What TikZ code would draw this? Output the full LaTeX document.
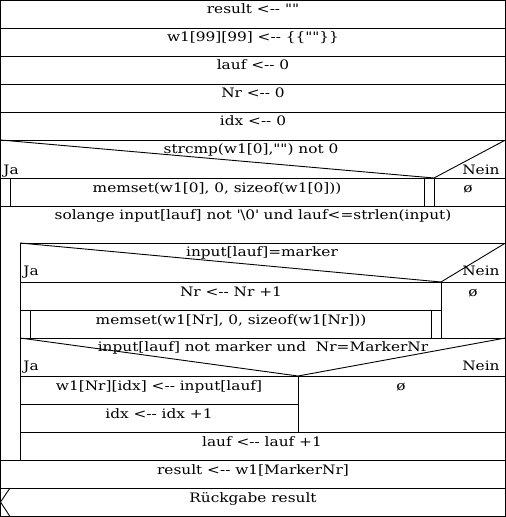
\documentclass[tikz,border=0pt]{standalone}
\usepackage{fontspec}
\setmainfont{DejaVu Serif}[Ligatures=TeXOff,FakeStretch=1.18]
\begin{document}
\begin{tikzpicture}[x=1pt,y=-1pt,line width=0.9pt,
  txt/.style={inner sep=0pt,anchor=base,font=\fontsize{13}{15}\selectfont},
  lbl/.style={inner sep=0pt,font=\fontsize{13}{15}\selectfont}]
\useasboundingbox (0,0) rectangle (506,517);
% frame
\draw (0.5,0.5) rectangle (505.5,516.5);
% full horizontal lines
\foreach \y in {28,56,84,112,140,206,460,488} \draw (0.5,\y) -- (505.5,\y);
% simple statements
\node[txt] (s1) at (253,13) {result <-{}- ""};
\node[txt] (s2) at (253,41) {w1[99][99] <-{}- \{\{""\}\}};
\node[txt] (s3) at (253,69) {lauf <-{}- 0};
\node[txt] (s4) at (253,97) {Nr <-{}- 0};
\node[txt] (s5) at (253,125) {idx <-{}- 0};
% if 1
\draw (0.5,140) -- (434,178) -- (505.5,140);
\draw (0.5,178) -- (505.5,178);
\draw (434,178) -- (434,206);
\draw (10,178) -- (10,206) (424,178) -- (424,206);
\node[txt] (c1) at (251,153) {strcmp(w1[0],"") not 0};
\node[lbl,anchor=base west] (j1) at (3,174) {Ja};
\node[lbl,anchor=base east] (n1) at (500,174) {Nein};
\node[txt] (m1) at (217,192) {memset(w1[0], 0, sizeof(w1[0]))};
\node[txt] (e1) at (468,192) {ø};
% while
\node[txt] (w) at (253,219) {solange input[lauf] not \textquotesingle\textbackslash0\textquotesingle{} und lauf<=strlen(input)};
\draw (20,243) -- (505.5,243);
\draw (20,243) -- (20,460);
% if 2
\draw (20,243) -- (441,282) -- (505.5,243);
\draw (20,282) -- (505.5,282);
\draw (20,310) -- (441,310);
\draw (441,282) -- (441,338);
\draw (30,310) -- (30,338) (431,310) -- (431,338);
\draw (20,338) -- (505.5,338);
\node[txt] (c2) at (262,256) {input[lauf]=marker};
\node[lbl,anchor=base west] (j2) at (23,275) {Ja};
\node[lbl,anchor=base east] (n2) at (500,275) {Nein};
\node[txt] (a2) at (231,296) {Nr <-{}- Nr +1};
\node[txt] (m2) at (231,324) {memset(w1[Nr], 0, sizeof(w1[Nr]))};
\node[txt] (e2) at (473,296) {ø};
% if 3
\draw (20,338) -- (298,376) -- (505.5,338);
\draw (20,376) -- (505.5,376);
\draw (20,404) -- (298,404);
\draw (298,376) -- (298,432);
\draw (20,432) -- (505.5,432);
\node[txt] (c3) at (263,351) {input[lauf] not marker und\ \ Nr=MarkerNr};
\node[lbl,anchor=base west] (j3) at (23,370) {Ja};
\node[lbl,anchor=base east] (n3) at (500,370) {Nein};
\node[txt] (a3) at (159,390) {w1[Nr][idx] <-{}- input[lauf]};
\node[txt] (a4) at (159,418) {idx <-{}- idx +1};
\node[txt] (e3) at (401,390) {ø};
\node[txt] (a5) at (262,446) {lauf <-{}- lauf +1};
% after loop
\node[txt] (s6) at (253,474) {result <-{}- w1[MarkerNr]};
\draw (10,488) -- (0.5,502) -- (10,516.5);
\node[txt] (r) at (253,502) {Rückgabe result};
\end{tikzpicture}
\end{document}
